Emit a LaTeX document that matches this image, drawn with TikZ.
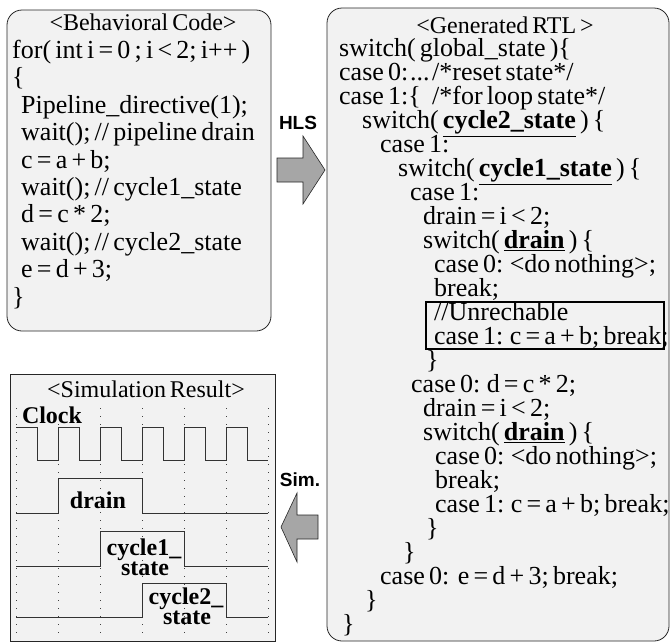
\documentclass[tikz,border=0pt]{standalone}
\usepackage{fontspec}
\setmainfont{Liberation Serif}[WordSpace=0.65]
\newfontfamily\labfont{Liberation Sans}
\definecolor{boxgray}{RGB}{242,242,242}
\definecolor{arrowgray}{RGB}{166,166,166}
\newcommand{\ubf}[1]{\underline{\textbf{#1}}}
\begin{document}
\begin{tikzpicture}[x=1pt,y=-1pt,
  codeline/.style={anchor=base west, inner sep=0pt, font=\fontsize{26}{26}\selectfont},
  paneltitle/.style={anchor=base, inner sep=0pt, font=\fontsize{24}{24}\selectfont},
  panel/.style={draw=black!85, line width=0.8pt, fill=boxgray},
  bigarrow/.style={draw=black!85, line width=0.6pt, fill=arrowgray},
  arrowlabel/.style={inner sep=0pt, font=\labfont\bfseries\fontsize{19}{19}\selectfont},
  sig/.style={draw=black!80, line width=0.8pt},
  timegrid/.style={draw=black!75, line width=0.9pt, dash pattern=on 1pt off 7pt},
  siglabel/.style={anchor=base, inner sep=0pt, font=\bfseries\fontsize{24}{24}\selectfont}
]
\useasboundingbox (0,0) rectangle (670,643);

% ---------- Behavioral code panel ----------
\draw[panel, rounded corners=15pt] (7,10) rectangle (271,331);
\node[paneltitle] (b1) at (143,30) {<Behavioral Code>};
\node[codeline] (b2) at (12,{31+1*27.4}) {for( int i = 0 ; i < 2; i++ )};
\node[codeline] (b3) at (12,{31+2*27.4}) {\{};
\node[codeline] (b4) at (21,{31+3*27.4}) {Pipeline\_directive(1);};
\node[codeline] (b5) at (21,{31+4*27.4}) {wait(); // pipeline drain};
\node[codeline] (b6) at (21,{31+5*27.4}) {c = a + b;};
\node[codeline] (b7) at (21,{31+6*27.4}) {wait(); // cycle1\_state};
\node[codeline] (b8) at (21,{31+7*27.4}) {d = c * 2;};
\node[codeline] (b9) at (21,{31+8*27.4}) {wait(); // cycle2\_state};
\node[codeline] (b10) at (21,{31+9*27.4}) {e = d + 3;};
\node[codeline] (b11) at (12,{31+10*27.4}) {\}};

% ---------- Generated RTL panel ----------
\draw[panel, rounded corners=15pt] (327,8) rectangle (669,641);
\draw[line width=2pt, draw=black] (426,302) rectangle (664,349);
\node[paneltitle] (r1) at (505,33) {<Generated RTL >};
\node[codeline] (r2) at (339,{33+1*23.96}) {switch( global\_state )\{};
\node[codeline] (r3a) at (339,{33+2*23.96}) {case 0:};
\node[codeline] (r3b) at (410,{33+2*23.96}) {...};
\node[codeline] (r3c) at (432,{33+2*23.96}) {/*reset state*/};
\node[codeline] (r4a) at (339,{33+3*23.96}) {case 1:\{};
\node[codeline] (r4b) at (432,{33+3*23.96}) {/*for loop state*/};
\node[codeline] (r5) at (362,{33+4*23.96}) {switch( \ubf{cycle2\_state} ) \{};
\node[codeline] (r6) at (380,{33+5*23.96}) {case 1:};
\node[codeline] (r7) at (398,{33+6*23.96}) {switch( \ubf{cycle1\_state} ) \{};
\node[codeline] (r8) at (410,{33+7*23.96}) {case 1:};
\node[codeline] (r9) at (423,{33+8*23.96}) {drain = i < 2;};
\node[codeline] (r10) at (423,{33+9*23.96}) {switch( \ubf{drain} ) \{};
\node[codeline] (r11) at (434,{33+10*23.96}) {case 0: <do nothing>;};
\node[codeline] (r12) at (434,{33+11*23.96}) {break;};
\node[codeline] (r13) at (434,{33+12*23.96}) {//Unrechable};
\node[codeline] (r14) at (434,{33+13*23.96}) {case 1: c = a + b; break;};
\node[codeline] (r15) at (426,{33+14*23.96}) {\}};
\node[codeline] (r16) at (411,{33+15*23.96}) {case 0: d = c * 2;};
\node[codeline] (r17) at (423,{33+16*23.96}) {drain = i < 2;};
\node[codeline] (r18) at (423,{33+17*23.96}) {switch( \ubf{drain} ) \{};
\node[codeline] (r19) at (435,{33+18*23.96}) {case 0: <do nothing>;};
\node[codeline] (r20) at (435,{33+19*23.96}) {break;};
\node[codeline] (r21) at (435,{33+20*23.96}) {case 1: c = a + b; break;};
\node[codeline] (r22) at (426,{33+21*23.96}) {\}};
\node[codeline] (r23) at (403,{33+22*23.96}) {\}};
\node[codeline] (r24) at (380,{33+23*23.96}) {case 0:\ \ e = d + 3; break;};
\node[codeline] (r25) at (365,{33+24*23.96}) {\}};
\node[codeline] (r26) at (342,{33+25*23.96}) {\}};

% ---------- big arrows ----------
\draw[bigarrow] (277,158) -- (303,158) -- (303,136) -- (325,170) -- (303,204) -- (303,182) -- (277,182) -- cycle;
\node[arrowlabel] (hls) at (298,123) {HLS};
\draw[bigarrow] (318,515) -- (297,515) -- (297,493) -- (281,527) -- (297,562) -- (297,539) -- (318,539) -- cycle;
\node[arrowlabel] (sim) at (300,480) {Sim.};

% ---------- Simulation panel ----------
\draw[panel] (10,374) rectangle (275,641);
\node[paneltitle] (simtitle) at (146,397) {<Simulation Result>};
\foreach \x in {16,58,100,142,184,226,268} \draw[timegrid] (\x,408) -- (\x,639);
\node[siglabel, fill=boxgray, inner sep=1pt] (clk) at (52,423) {Clock};
\draw[sig] (16,427) -- (37,427) -- (37,460) -- (58,460) -- (58,427) -- (79,427) -- (79,460) -- (100,460)
  -- (100,427) -- (121,427) -- (121,460) -- (142,460) -- (142,427) -- (163,427) -- (163,460) -- (184,460)
  -- (184,427) -- (205,427) -- (205,460) -- (226,460) -- (226,427) -- (247,427) -- (247,460) -- (268,460);
\draw[sig] (16,513) -- (58,513) -- (58,478) -- (142,478) -- (142,513) -- (268,513);
\node[siglabel] (drn) at (98,508) {drain};
\draw[sig] (16,566) -- (100,566) -- (100,531) -- (184,531) -- (184,566) -- (268,566);
\node[siglabel] (c1a) at (144,555) {cycle1\_};
\node[siglabel] (c1b) at (145,575) {state};
\draw[sig] (16,617) -- (142,617) -- (142,583) -- (226,583) -- (226,617) -- (268,617);
\node[siglabel] (c2a) at (186,604) {cycle2\_};
\node[siglabel] (c2b) at (187,624) {state};
\end{tikzpicture}
\end{document}
